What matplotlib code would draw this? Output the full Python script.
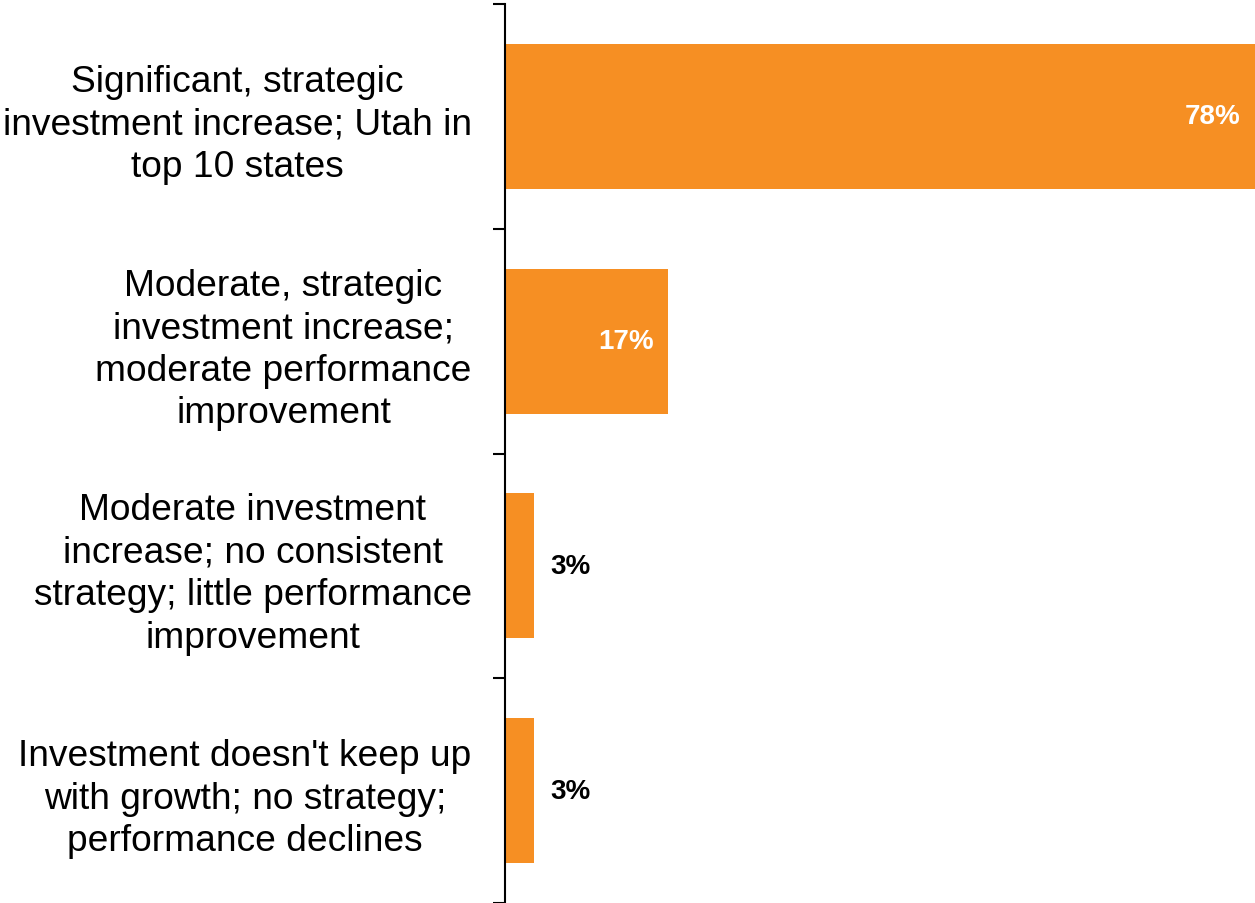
import matplotlib.pyplot as plt

plt.rcParams['font.family'] = ['Liberation Sans', 'DejaVu Sans']

# Respuestas de la encuesta (porcentaje)
categorias = [
    "Significant, strategic\ninvestment increase; Utah in\ntop 10 states",
    "Moderate, strategic\ninvestment increase;\nmoderate performance\nimprovement",
    "Moderate investment\nincrease; no consistent\nstrategy; little performance\nimprovement",
    "Investment doesn't keep up\nwith growth; no strategy;\nperformance declines",
]
valores = [78, 17, 3, 3]
etiquetas = ["78%", "17%", "3%", "3%"]

NARANJA = "#F68F23"

fig = plt.figure(figsize=(12.55, 9.04), dpi=100)
ax = fig.add_axes([505 / 1255, 0.0, 750 / 1255, 1 - 5 / 904])

pos = list(range(len(valores)))
ax.barh(pos, valores, height=0.645, color=NARANJA)

ax.set_xlim(0, 78)
ax.set_ylim(len(valores) - 0.5, -0.5)

# Etiquetas de valor: blancas dentro de las barras grandes, negras fuera de las pequeñas
for y, v, txt in zip(pos, valores, etiquetas):
    if v > 10:
        ax.annotate(txt, (v, y), xytext=(-10.5, 0), textcoords="offset points",
                    ha="right", va="center", color="white",
                    fontsize=20, fontweight="bold")
    else:
        ax.annotate(txt, (v, y), xytext=(12, 0), textcoords="offset points",
                    ha="left", va="center", color="black",
                    fontsize=20, fontweight="bold")

# Marcas de división entre categorías y etiquetas centradas
ax.set_yticks([p - 0.5 for p in pos] + [len(valores) - 0.5])
ax.set_yticklabels([])
ax.tick_params(axis="y", which="major", length=8.5, width=1.5, direction="out")
ax.set_yticks(pos, minor=True)
ax.set_yticklabels(categorias, minor=True, fontsize=26.7, multialignment="center",
                   linespacing=1.28)
ax.tick_params(axis="y", which="minor", length=0, pad=24)

ax.set_xticks([])
for lado in ["top", "right", "bottom"]:
    ax.spines[lado].set_visible(False)
ax.spines["left"].set_linewidth(1.5)

fig.savefig("out.png", dpi=100)
